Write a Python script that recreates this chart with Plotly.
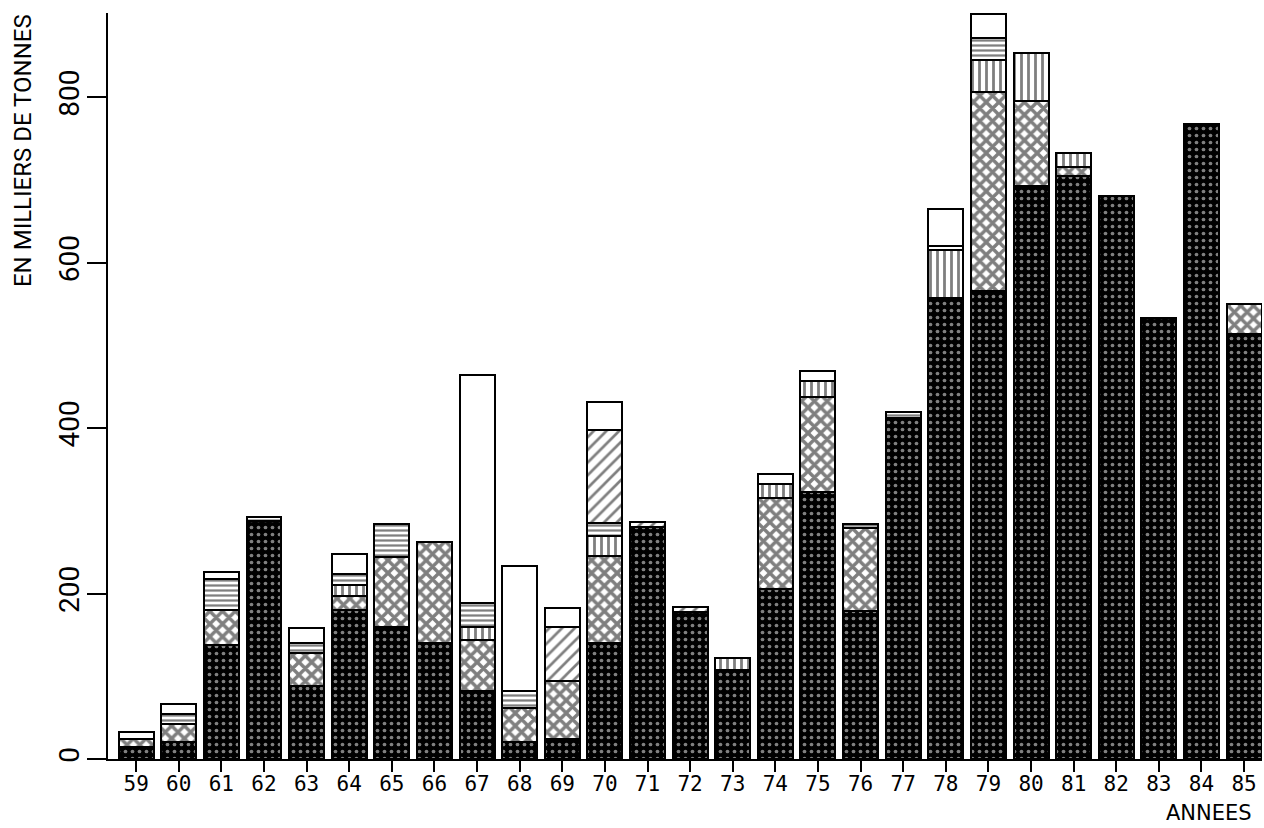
import plotly.graph_objects as go

# années 1959 -> 1985
years = list(range(59, 86))
year_labels = [str(y) for y in years]

# tonnages (milliers de tonnes) par couche, de bas en haut
dense = [15, 20, 138, 288, 88, 180, 160, 140, 82, 20, 24, 140, 280, 178, 108, 205, 323, 179, 412, 557, 566, 693, 705, 681, 533, 768, 514]
croise = [9, 22, 42, 0, 40, 17, 84, 122, 62, 42, 70, 105, 0, 0, 0, 110, 115, 100, 0, 0, 241, 103, 11, 0, 0, 0, 36]
vertical = [0, 0, 0, 0, 0, 13, 0, 0, 16, 0, 0, 25, 0, 0, 14, 18, 19, 0, 0, 58, 38, 58, 17, 0, 0, 0, 0]
horizontal = [0, 12, 38, 5, 12, 14, 40, 0, 29, 20, 0, 15, 0, 0, 0, 0, 0, 5, 8, 5, 27, 0, 0, 0, 0, 0, 0]
oblique = [0, 0, 0, 0, 0, 0, 0, 0, 0, 0, 66, 113, 7, 6, 0, 0, 0, 0, 0, 0, 0, 0, 0, 0, 0, 0, 0]
blanc = [9, 12, 8, 0, 19, 24, 0, 0, 275, 151, 22, 34, 0, 0, 0, 12, 12, 0, 0, 45, 29, 0, 0, 0, 0, 0, 0]

y_ticks = [0, 200, 400, 600, 800]

layers = [
    (dense, dict(shape=".", fgcolor="white", bgcolor="black", size=7, solidity=0.22), "black"),
    (croise, dict(shape="x", fgcolor="black", bgcolor="white", size=9, solidity=0.62), "white"),
    (vertical, dict(shape="|", fgcolor="black", bgcolor="white", size=7, solidity=0.4), "white"),
    (horizontal, dict(shape="-", fgcolor="black", bgcolor="white", size=5, solidity=0.45), "white"),
    (oblique, dict(shape="/", fgcolor="black", bgcolor="white", size=9, solidity=0.3), "white"),
    (blanc, dict(shape=""), "white"),
]

fig = go.Figure()
for vals, pat, col in layers:
    fig.add_trace(go.Bar(
        x=years, y=vals, width=0.82,
        marker=dict(color=col, pattern=pat, line=dict(color="black", width=2)),
        showlegend=False,
    ))

fig.update_layout(
    barmode="stack",
    width=1264, height=828,
    margin=dict(l=108, r=2, t=13, b=69),
    plot_bgcolor="white", paper_bgcolor="white",
    font=dict(family="DejaVu Sans Mono", color="black"),
)

fig.update_xaxes(
    range=[58.34, 85.42], automargin=False,
    tickvals=years, ticktext=year_labels,
    ticks="outside", ticklen=11, tickwidth=2, tickcolor="black",
    ticklabelstandoff=-6,
    showline=True, linewidth=2, linecolor="black",
    showgrid=False, zeroline=False,
    tickfont=dict(family="DejaVu Sans Mono", size=21),
)
fig.update_yaxes(
    range=[0, 902], automargin=False,
    tickvals=y_ticks,
    ticks="outside", ticklen=19, tickwidth=2, tickcolor="black",
    tickangle=-90, ticklabelstandoff=-3,
    showline=True, linewidth=2, linecolor="black",
    showgrid=False, zeroline=False,
    tickfont=dict(family="Roboto, Liberation Sans", size=28),
)

fig.add_annotation(
    text="EN MILLIERS DE TONNES", xref="paper", yref="paper",
    x=-0.073, y=0.816, xanchor="center", yanchor="middle",
    textangle=-90, showarrow=False,
    font=dict(family="Roboto, Liberation Sans", size=24),
)
fig.add_annotation(
    text="ANNEES", xref="paper", yref="paper",
    x=0.954, y=-0.072, xanchor="center", yanchor="middle",
    showarrow=False,
    font=dict(family="DejaVu Sans", size=21),
)

fig.write_html("out.html", config={"displayModeBar": False},
               post_script="document.body.style.margin='0px';")
